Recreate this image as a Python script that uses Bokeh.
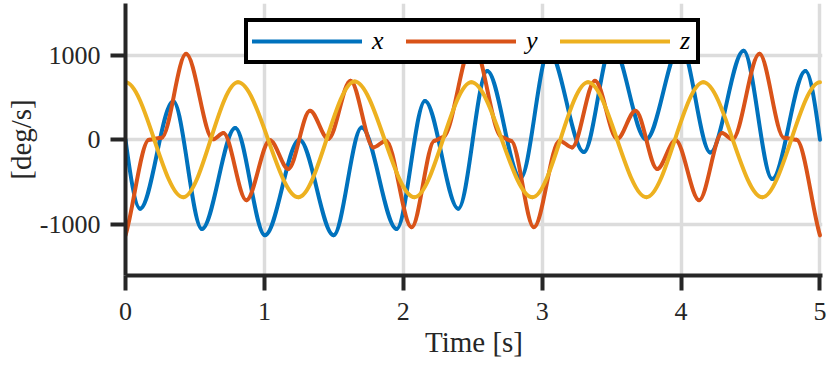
import numpy as np
from bokeh.plotting import figure
from bokeh.models import Range1d, FixedTicker, Legend, LegendItem, ColumnDataSource
from bokeh.core.properties import value
from bokeh.embed import file_html
from bokeh.resources import INLINE

# ---- data (turning points of each trace) ----
x_t = [0.0, 0.105, 0.344, 0.55, 0.79, 1.004, 1.252, 1.498, 1.70, 1.952, 2.156, 2.396,
       2.604, 2.844, 3.048, 3.30, 3.502, 3.748, 3.996, 4.21, 4.45, 4.656, 4.895, 5.0]
x_v = [0, -815, 455, -1055, 140, -1130, 0, -1130, 145, -1055, 460, -815,
       815, -455, 1055, -145, 1130, 5, 1130, -150, 1055, -465, 815, 0]

y_t = [0.0, 0.17, 0.26, 0.436, 0.63, 0.705, 0.87, 1.04, 1.172, 1.328, 1.46, 1.62,
       1.785, 1.875, 2.06, 2.225, 2.285, 2.5, 2.71, 2.775, 2.94, 3.125, 3.215, 3.38,
       3.54, 3.672, 3.828, 3.96, 4.13, 4.295, 4.37, 4.564, 4.74, 4.83, 5.0]
y_v = [-1132, 0, 25, 1017, 5, 80, -715, -5, -345, 345, 10, 700,
       -90, -10, -1035, -10, 30, 1150, 30, -10, -1035, -10, -90, 700,
       10, 345, -345, -5, -715, 80, 5, 1017, 25, 0, -1132]

z_t = [0.0, 0.415, 0.81, 1.245, 1.65, 2.08, 2.49, 2.93, 3.33, 3.75, 4.16, 4.585, 5.0]
z_v = [680, -680, 680, -680, 690, -680, 680, -680, 680, -680, 680, -680, 680]

series_labels = ["x", "y", "z"]
series_colors = ["#0072BD", "#D95319", "#EDB120"]
x_ticks = [0, 1, 2, 3, 4, 5]
y_ticks = [-1000, 0, 1000]
y_tick_labels = ["-1000", "0", "1000"]
x_label = "Time [s]"
y_label = "[deg/s]"

# end-slope factors (shape of the trace where it meets the plot edges)
end_factors = [(1.57, 1.57), (0.8, 0.8), (0.0, 0.0)]


def smooth_segments(t, v, k0, k1):
    """Cubic Bezier segments through the read turning points (flat tangents there)."""
    t = np.asarray(t, float)
    v = np.asarray(v, float)
    m = np.zeros_like(v)
    m[0] = k0 * (v[1] - v[0]) / (t[1] - t[0])
    m[-1] = k1 * (v[-1] - v[-2]) / (t[-1] - t[-2])
    dt = np.diff(t)
    return dict(x0=t[:-1], y0=v[:-1], x1=t[1:], y1=v[1:],
                cx0=t[:-1] + dt / 3, cy0=v[:-1] + m[:-1] * dt / 3,
                cx1=t[1:] - dt / 3, cy1=v[1:] - m[1:] * dt / 3)


FONT = "Liberation Serif"
INK = "#262626"

p = figure(width=830, height=365,
           x_range=Range1d(0, 5.018), y_range=Range1d(-1606, 1613),
           output_backend="svg", toolbar_location=None,
           min_border_left=125, min_border_right=8, min_border_top=3, min_border_bottom=90)
p.outline_line_color = None
p.background_fill_color = "white"
p.border_fill_color = "white"

for ax, ticks in ((p.xaxis, x_ticks), (p.yaxis, y_ticks)):
    ax.ticker = FixedTicker(ticks=ticks)
    ax.axis_line_width = 4
    ax.axis_line_color = INK
    ax.major_tick_line_width = 4
    ax.major_tick_line_color = INK
    ax.major_tick_out = 15
    ax.major_tick_in = 0
    ax.minor_tick_line_color = None
    ax.major_label_text_font = FONT
    ax.major_label_text_font_size = "26px"
    ax.major_label_text_color = INK
    ax.axis_label_text_font = FONT
    ax.axis_label_text_font_size = "29px"
    ax.axis_label_text_font_style = "normal"
    ax.axis_label_text_color = INK

p.yaxis.major_label_overrides = {tv: tl for tv, tl in zip(y_ticks, y_tick_labels)}
p.xaxis.axis_label = x_label
p.yaxis.axis_label = y_label
p.xaxis.major_label_standoff = 12
p.xaxis.axis_label_standoff = 3
p.yaxis.major_label_standoff = 10
p.yaxis.axis_label_standoff = 0

p.xgrid.ticker = FixedTicker(ticks=x_ticks)
p.ygrid.ticker = FixedTicker(ticks=y_ticks)
for g in (p.xgrid, p.ygrid):
    g.grid_line_color = "#dcdcdc"
    g.grid_line_width = 3.5

renderers = []
for (t, v), col, (k0, k1) in zip(((x_t, x_v), (y_t, y_v), (z_t, z_v)), series_colors, end_factors):
    src = ColumnDataSource(smooth_segments(t, v, k0, k1))
    r = p.bezier(x0="x0", y0="y0", x1="x1", y1="y1", cx0="cx0", cy0="cy0",
                 cx1="cx1", cy1="cy1", source=src, line_color=col,
                 line_width=4, line_cap="round")
    renderers.append(r)

legend = Legend(
    items=[LegendItem(label=value(lab), renderers=[r]) for lab, r in zip(series_labels, renderers)],
    orientation="horizontal", location=(119, 211),
    padding=4, spacing=22, glyph_width=110, glyph_height=20,
    label_standoff=10, label_width=12, margin=0,
    border_line_color="black", border_line_width=4, border_line_alpha=1.0,
    background_fill_color="white", background_fill_alpha=1.0,
    label_text_font=FONT, label_text_font_size="26px",
    label_text_font_style="italic", label_text_color="black",
)
p.add_layout(legend)

open("out.html", "w").write(file_html(p, INLINE))
